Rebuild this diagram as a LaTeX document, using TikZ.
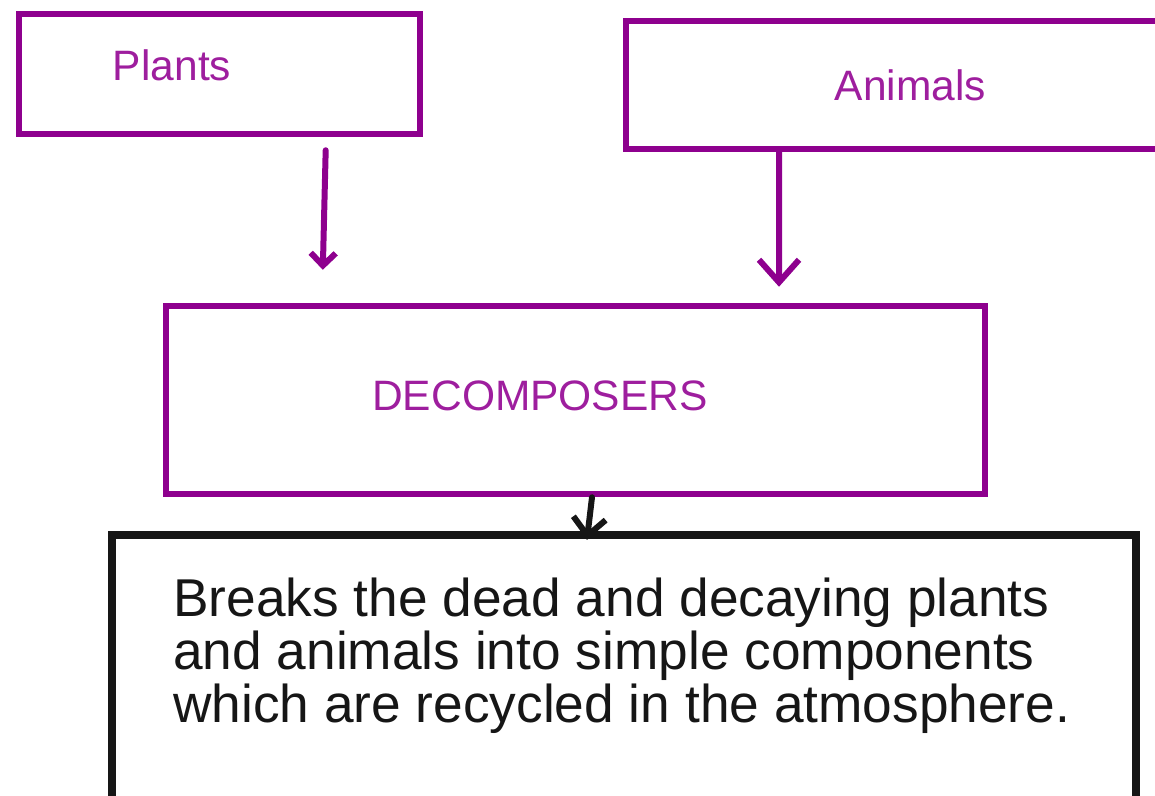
\documentclass[tikz,border=0pt]{standalone}
\usepackage{fontspec}
\setmainfont{Liberation Sans}
\usetikzlibrary{arrows.meta}
\definecolor{tim}{RGB}{142,0,142}
\definecolor{timchu}{RGB}{158,30,158}
\definecolor{den}{RGB}{22,22,22}
\begin{document}
\begin{tikzpicture}[
    pbox/.style={draw=tim,line width=0.13cm,inner sep=0pt},
    kbox/.style={draw=den,line width=0.16cm,inner sep=0pt},
    ptext/.style={text=timchu,font=\fontsize{24.2}{29}\selectfont,inner sep=0pt},
    parrow/.style={draw=tim,line width=0.12cm,line cap=round,line join=round},
    karrow/.style={draw=den,line width=0.12cm,line cap=round,line join=round}
    ]
    \path[use as bounding box,clip] (0,0) rectangle (23.1,-15.9);
    %các hộp
    \node[pbox,minimum width=8.02cm,minimum height=2.40cm] (plants) at (4.39,-1.48) {};
    \node[pbox,minimum width=11.38cm,minimum height=2.56cm] (animals) at (18.21,-1.70) {};
    \node[pbox,minimum width=16.38cm,minimum height=3.76cm] (decomp) at (11.51,-8.00) {};
    \node[kbox,minimum width=20.48cm,minimum height=5.90cm] (info) at (12.48,-13.65) {};
    %chữ
    \path
    foreach \n/\dx/\dy/\t in {plants/-0.95/-0.12/Plants,animals/0/-0.30/Animals,decomp/-0.71/-0.20/DECOMPOSERS}
    {([xshift=\dx cm,yshift=\dy cm]\n.center) node[ptext,anchor=base] (\n-txt) {\t}};
    \node[text=den,font=\fontsize{30.3}{30.1}\selectfont,align=left,inner sep=0pt,anchor=base west] (info-txt) at (3.46,-14.44)
    {Breaks the dead and decaying plants\\and animals into simple components\\which are recycled in the atmosphere.};
    %mũi tên
    \draw[parrow,-{Straight Barb[length=0.25cm,width=0.5cm]},shorten <=0.26cm,shorten >=0.66cm]
    ([xshift=2.13cm]plants.south)--([xshift=-5.07cm]decomp.north);
    \draw[parrow,-{Straight Barb[length=0.45cm,width=0.8cm]},shorten >=0.32cm]
    ([xshift=-2.63cm]animals.south)--([xshift=4.07cm]decomp.north);
    \draw[karrow,-{Straight Barb[length=0.35cm,width=0.65cm]},shorten >=-0.18cm]
    ([xshift=0.33cm]decomp.south)--([xshift=-0.72cm]info.north);
\end{tikzpicture}
\end{document}
